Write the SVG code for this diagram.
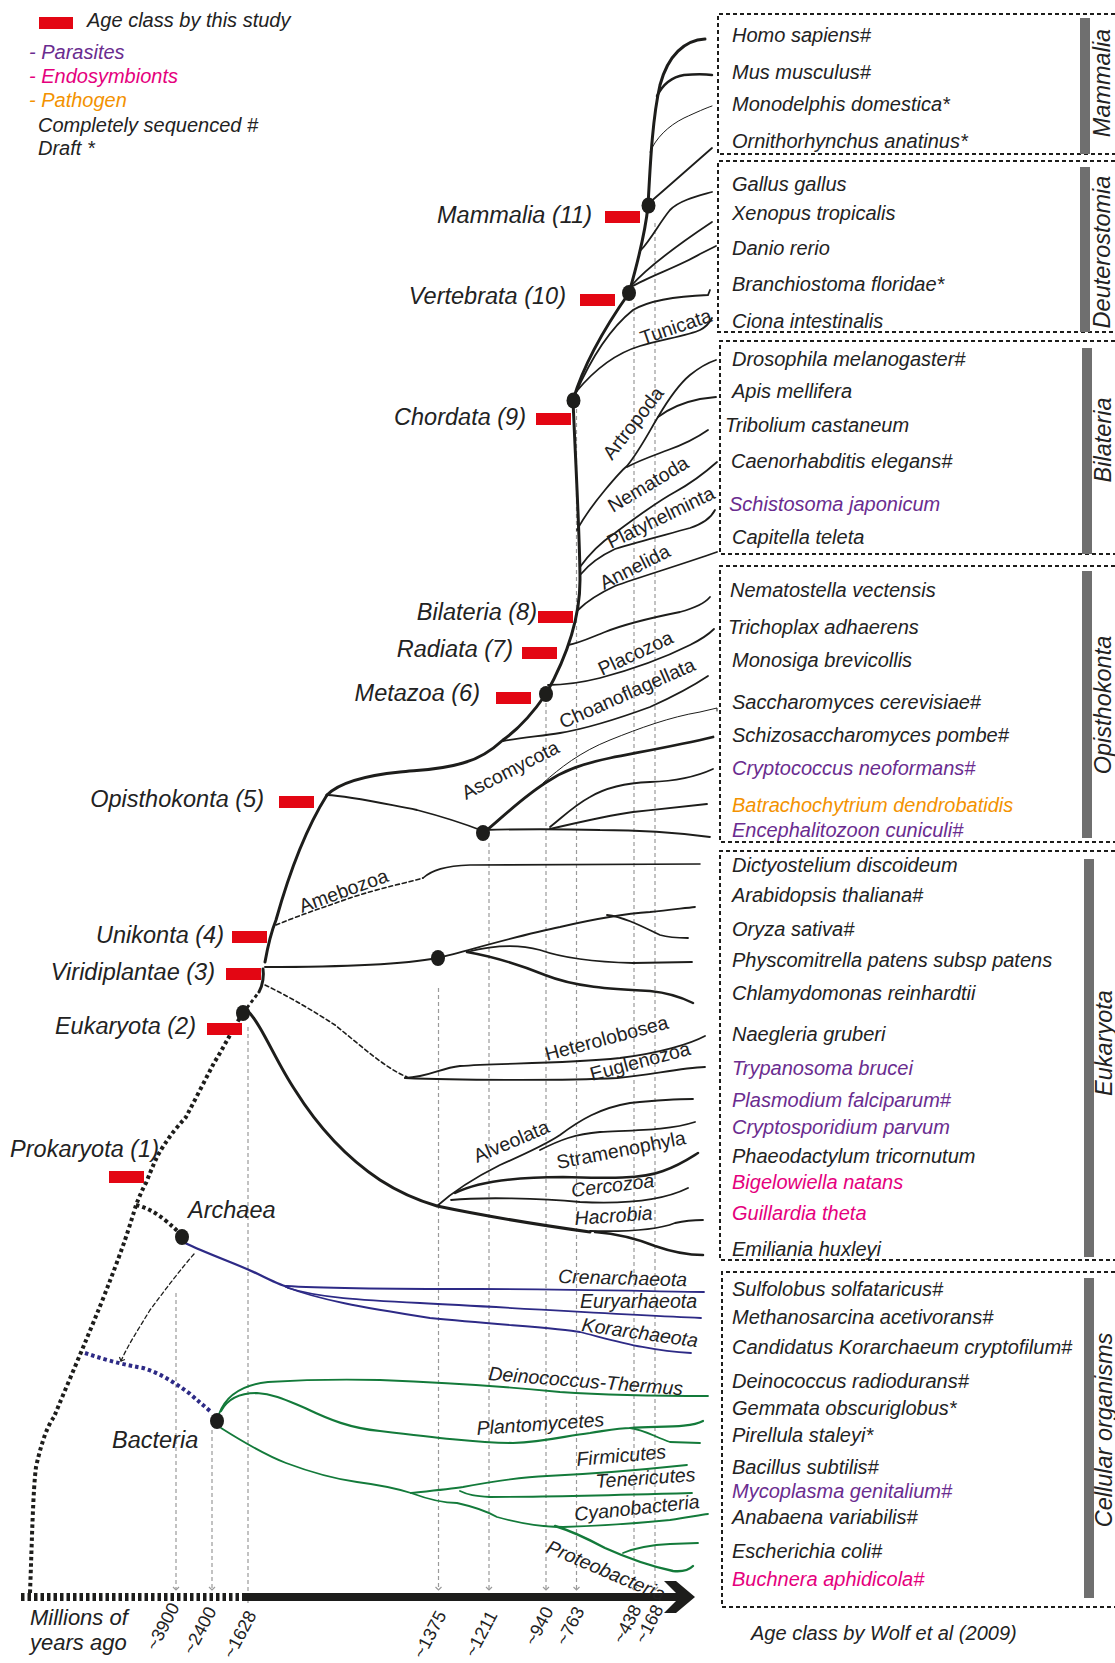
<svg xmlns="http://www.w3.org/2000/svg" width="1115" height="1663" viewBox="0 0 1115 1663">
<defs>
<style>
text{font-family:"Liberation Sans",Arial,sans-serif;fill:#222}
.it{font-style:italic}
.lg{font-size:20px;font-style:italic}
.sp{font-size:20px;font-style:italic}
.nl{font-size:23.5px;font-style:italic}
.bl{font-size:19.5px}
.vl{font-size:23.5px;font-style:italic}
.ax{font-size:18px}
.par{fill:#6a2c8f}
.endo{fill:#e5007d}
.pat{fill:#f39200}
.br{fill:none;stroke:#1d1d1b;stroke-width:1.8;stroke-linecap:round}
.tk{stroke-width:3}
.md{stroke-width:2.5}
.tn{stroke-width:1}
.arch{stroke:#2d2a86}
.bact{stroke:#137a3a}
.dash{stroke-dasharray:4 3;stroke-width:1.6}
.dots{fill:none;stroke:#1d1d1b;stroke-width:4;stroke-dasharray:3.5 3}
.guide{fill:none;stroke:#9a9a9a;stroke-width:1.2;stroke-dasharray:4 3}
.box{fill:none;stroke:#1d1d1b;stroke-width:2;stroke-dasharray:4 3}
.bar{fill:#6f6f6f}
.red{fill:#e30613}
.dot{fill:#1d1d1b}
</style>
<marker id="gv" viewBox="-4 -4 8 8" refX="0" refY="0" markerWidth="8" markerHeight="8" orient="auto" markerUnits="userSpaceOnUse">
<path d="M-3,-3 L0,0 L-3,3" fill="none" stroke="#9a9a9a" stroke-width="1.2"/>
</marker>
<marker id="bv" viewBox="-4 -4 8 8" refX="0" refY="0" markerWidth="8" markerHeight="8" orient="auto" markerUnits="userSpaceOnUse">
<path d="M-3,-3 L0,0 L-3,3" fill="none" stroke="#1d1d1b" stroke-width="1.2"/>
</marker>
</defs>
<rect width="1115" height="1663" fill="#fff"/>

<g id="legend">
<rect class="red" x="39" y="17" width="34" height="12"/>
<text class="lg" x="87" y="27">Age class by this study</text>
<text class="lg par" x="29" y="59">- Parasites</text>
<text class="lg endo" x="29" y="83">- Endosymbionts</text>
<text class="lg pat" x="29" y="107">- Pathogen</text>
<text class="lg" x="38" y="132">Completely sequenced #</text>
<text class="lg" x="38" y="155">Draft *</text>
</g>

<g id="guides">
<line class="guide" x1="176" y1="1293" x2="176" y2="1590" marker-end="url(#gv)"/>
<line class="guide" x1="212" y1="1430" x2="212" y2="1590" marker-end="url(#gv)"/>
<line class="guide" x1="248" y1="1027" x2="248" y2="1603"/>
<line class="guide" x1="438.5" y1="988" x2="438.5" y2="1590" marker-end="url(#gv)"/>
<line class="guide" x1="489" y1="843" x2="489" y2="1590" marker-end="url(#gv)"/>
<line class="guide" x1="546" y1="703" x2="546" y2="1590" marker-end="url(#gv)"/>
<line class="guide" x1="576.5" y1="409" x2="576.5" y2="1590" marker-end="url(#gv)"/>
<line class="guide" x1="634" y1="303" x2="634" y2="1590" marker-end="url(#gv)"/>
<line class="guide" x1="655" y1="223" x2="655" y2="1590" marker-end="url(#gv)"/>
</g>

<g id="axis">
<line x1="21" y1="1597" x2="243" y2="1597" stroke="#1d1d1b" stroke-width="8" stroke-dasharray="3.5 3"/>
<line x1="243" y1="1597" x2="682" y2="1597" stroke="#1d1d1b" stroke-width="8"/>
<polygon points="664,1581 676,1581 695,1597 676,1613 664,1613 680,1597" fill="#1d1d1b"/>
<text class="lg" x="30" y="1625" style="font-size:22px">Millions of</text>
<text class="lg" x="30" y="1650" style="font-size:22px">years ago</text>
<text class="ax" text-anchor="end" transform="translate(180,1607) rotate(-62)">~3900</text>
<text class="ax" text-anchor="end" transform="translate(217,1611) rotate(-62)">~2400</text>
<text class="ax" text-anchor="end" transform="translate(257,1615) rotate(-62)">~1628</text>
<text class="ax" text-anchor="end" transform="translate(447,1615) rotate(-62)">~1375</text>
<text class="ax" text-anchor="end" transform="translate(498,1615) rotate(-62)">~1211</text>
<text class="ax" text-anchor="end" transform="translate(554,1611) rotate(-62)">~940</text>
<text class="ax" text-anchor="end" transform="translate(585,1611) rotate(-62)">~763</text>
<text class="ax" text-anchor="end" transform="translate(642,1609) rotate(-62)">~438</text>
<text class="ax" text-anchor="end" transform="translate(664,1609) rotate(-62)">~168</text>
<text class="lg" x="751" y="1640">Age class by Wolf et al (2009)</text>
</g>

<g id="connectors">
<path class="dots" d="M30,1593 C32,1540 33,1490 36,1467 C42,1440 48,1425 54,1417 C65,1390 78,1360 89,1333 C105,1295 118,1260 125,1240 C130,1225 134,1212 136,1205 C140,1195 143,1188 146,1183 C152,1168 156,1158 161,1150 C170,1135 178,1126 186,1117 C195,1100 205,1080 214,1063 C225,1045 235,1025 243,1013"/>
<path class="dots" style="stroke-width:3" d="M243,1013 L259,992"/>
<path class="dots" d="M136,1205 C145,1207 155,1212 165,1220 C172,1226 177,1230 182,1236"/>
<path class="dots" style="stroke:#2d2a86" d="M85,1353 C100,1358 115,1363 143,1368 C160,1373 175,1383 189,1393 C197,1400 203,1405 210,1411"/>
<path class="br dash" style="stroke-width:1.3" d="M194,1254 C180,1270 165,1290 150,1310 C138,1330 128,1345 121,1361" marker-end="url(#bv)"/>

<path class="br tk" d="M259,992 C263,985 264,975 263,969"/>
<path class="br tk" d="M265,962 C268,945 272,930 276,920 C290,870 305,830 327,795"/>
<path class="br tk" d="M327,795 C340,782 370,775 400,772 C420,770 440,770 463,763 C475,760 490,752 503,740 C520,728 535,710 546,694"/>
<path class="br tk" d="M546,694 C565,660 580,620 580,580 C580,540 575,450 573,400"/>
<path class="br tk" d="M573,400 C585,360 610,320 629,293"/>
<path class="br tk" d="M629,293 C637,265 645,235 648,206"/>
<path class="br tk" d="M648,206 C650,170 652,120 660,85 C668,55 685,40 705,39"/>

<path class="br md" d="M657,96 C663,84 672,77 684,75 C695,74 705,74 712,75"/>
<path class="br tn" d="M650,152 C656,138 668,126 684,118 C697,112 706,108 712,106"/>
<path class="br" d="M648,204 C670,185 695,163 712,148"/>
<path class="br" d="M641,250 C652,238 660,222 670,210 C680,200 698,196 712,192"/>
<path class="br" d="M631,286 C645,270 670,250 712,222"/>
<path class="br" d="M631,287 C650,276 680,266 700,254 L716,246"/>
<path class="br" d="M575,395 C588,365 608,330 633,310 C650,300 680,296 708,295 L710,290"/>
<path class="br" d="M576,392 C590,375 610,355 640,346 C660,340 690,335 700,330 C706,327 710,322 712,318"/>

<path class="br" d="M577,530 C585,515 595,502 605,490 C615,478 622,470 627,466 C640,450 650,430 658,417 C668,400 678,385 690,375 C700,367 710,362 716,360"/>
<path class="br" d="M658,417 C670,408 685,402 700,399 L716,397"/>
<path class="br" d="M627,467 C640,460 655,455 668,450 C685,444 698,437 708,430"/>
<path class="br" d="M580,567 C590,553 600,543 615,533 C635,518 655,503 675,492 C695,481 708,470 717,462"/>
<path class="br" d="M581,574 C590,563 600,556 615,549 C640,541 665,535 690,528 C705,523 712,516 715,510"/>
<path class="br" d="M578,610 C588,600 600,593 615,586 C640,577 680,565 717,552"/>
<path class="br" d="M568,645 C580,643 592,637 605,632 C630,622 660,616 680,612 C695,608 705,603 710,597"/>
<path class="br" d="M548,685 C565,685 580,683 600,678 C630,670 660,660 690,645 C700,640 710,633 714,629"/>
<path class="br" d="M503,741 C520,738 540,736 560,733 C590,728 620,718 650,707 C670,698 690,688 708,676"/>

<path class="br" d="M327,795 C350,796 380,803 417,810 C440,816 460,822 483,831"/>
<path class="br" d="M483,830 C520,829 560,829 600,830 C650,830 680,833 710,837"/>
<path class="br" style="stroke-width:2.8" d="M487,830 C505,815 525,795 550,780 C565,770 585,763 610,758 C640,752 680,745 713,737"/>
<path class="br tn" d="M543,783 C560,768 580,752 610,740 C640,728 670,717 700,712 L717,708 L717,711"/>
<path class="br" d="M550,827 C565,815 575,805 590,797 C605,788 625,783 650,782 C680,781 700,775 713,769"/>
<path class="br" d="M550,829 C580,822 610,815 633,812 C660,809 690,806 707,804"/>

<path class="br dash" d="M276,925 C300,915 330,905 350,898 C380,888 410,882 423,878"/>
<path class="br" style="stroke-width:1.6" d="M423,878 C432,870 445,866 470,865 L700,864"/>

<path class="br" style="stroke-width:2" d="M265,967 C320,967 400,965 438,958"/>
<path class="br" d="M438,958 C470,950 520,935 560,927 C590,920 620,914 650,912 C670,910 685,908 695,907"/>
<path class="br" d="M607,915 C625,917 645,928 660,935 C670,938 680,938 688,938"/>
<path class="br" d="M467,952 C490,946 515,943 540,950 C560,957 590,962 633,963 L692,962"/>
<path class="br md" d="M467,952 C490,956 520,965 545,975 C575,987 610,989 650,991 C670,993 683,998 693,1003"/>

<path class="br dash" d="M265,985 C290,997 315,1012 335,1025 C360,1045 385,1068 407,1077"/>
<path class="br" d="M405,1078 C430,1077 440,1068 460,1066 C500,1063 560,1064 620,1058 C660,1053 690,1044 705,1036"/>
<path class="br" d="M405,1078 C450,1080 560,1081 617,1078 C650,1075 680,1068 705,1067"/>

<path class="br tk" d="M247,1010 C262,1025 275,1060 295,1090 C320,1130 350,1160 380,1180 C400,1193 420,1201 437,1206 C480,1215 540,1225 590,1232"/>
<path class="br" d="M590,1231 C630,1232 660,1229 675,1223 C688,1220 697,1220 703,1220"/>
<path class="br md" d="M595,1232 C620,1234 640,1240 655,1246 C675,1253 690,1255 703,1255"/>
<path class="br" d="M437,1206 C455,1190 480,1175 500,1165 C525,1154 545,1145 560,1135 C580,1120 600,1108 630,1103 C660,1100 680,1099 693,1099"/>
<path class="br" d="M540,1150 C560,1140 575,1134 600,1132 C640,1130 670,1130 695,1122"/>
<path class="br md" d="M455,1193 C480,1180 520,1177 563,1177 C600,1178 640,1180 663,1171 C680,1165 690,1158 698,1153"/>
<path class="br" d="M451,1200 C480,1197 540,1198 580,1202 C620,1204 660,1202 688,1188"/>

<path class="br arch" style="stroke-width:2.4" d="M185,1243 C210,1255 240,1265 260,1275 C270,1280 280,1285 288,1287"/>
<path class="br arch" d="M286,1286 C330,1289 400,1289 480,1289 C560,1289 640,1291 704,1292"/>
<path class="br arch" d="M288,1288 C320,1298 360,1300 420,1303 C520,1308 620,1315 701,1318"/>
<path class="br arch" d="M286,1287 C320,1300 360,1307 430,1318 C500,1325 560,1328 580,1332 C620,1342 650,1351 691,1353"/>

<path class="br bact" d="M219,1414 C225,1398 240,1385 268,1382 C300,1380 340,1379 380,1380 C460,1383 520,1388 560,1392 C620,1396 670,1396 708,1396"/>
<path class="br bact" style="stroke-width:2.2" d="M221,1411 C228,1398 240,1393 257,1393 C275,1394 290,1402 305,1408 C330,1420 350,1428 380,1431 C430,1437 480,1443 513,1443 C545,1442 565,1436 590,1433 C610,1430 620,1428 630,1428 C660,1426 690,1428 703,1421"/>
<path class="br bact" d="M630,1428 C645,1430 655,1437 670,1442 L700,1443"/>
<path class="br bact" d="M221,1428 C240,1440 265,1455 286,1463 C310,1472 335,1479 357,1482 C380,1485 395,1488 411,1493"/>
<path class="br bact" d="M411,1493 C430,1491 450,1489 463,1487 C490,1482 520,1477 547,1476 C590,1474 640,1470 687,1465"/>
<path class="br bact" d="M460,1491 C468,1495 475,1496 490,1497 C540,1497 620,1495 692,1493"/>
<path class="br bact" d="M411,1493 C430,1500 445,1503 457,1503 C475,1507 490,1513 497,1517 C515,1522 540,1527 563,1527"/>
<path class="br bact" d="M563,1527 C600,1526 640,1523 670,1520 C690,1517 700,1515 708,1514"/>
<path class="br bact" style="stroke-width:2.4" d="M555,1526 C575,1532 590,1540 605,1548 C625,1557 645,1565 673,1571 C683,1572 690,1569 693,1566"/>
<path class="br bact" d="M623,1553 C635,1548 650,1545 670,1544 L698,1543"/>
</g>

<g id="branch-labels">
<text class="bl" transform="translate(643,345) rotate(-19)">Tunicata</text>
<text class="bl" transform="translate(612,461) rotate(-52)">Artropoda</text>
<text class="bl" transform="translate(613,513) rotate(-31)">Nematoda</text>
<text class="bl" transform="translate(611,549) rotate(-26)">Platyhelminta</text>
<text class="bl" transform="translate(604,590) rotate(-27)">Annelida</text>
<text class="bl" transform="translate(602,676) rotate(-25)">Placozoa</text>
<text class="bl" transform="translate(563,729) rotate(-24)">Choanoflagellata</text>
<text class="bl" transform="translate(466,800) rotate(-27)">Ascomycota</text>
<text class="bl" transform="translate(302,913) rotate(-20)">Amebozoa</text>
<text class="bl" transform="translate(547,1061) rotate(-15)">Heterolobosea</text>
<text class="bl" transform="translate(592,1081) rotate(-15)">Euglenozoa</text>
<text class="bl" transform="translate(477,1163) rotate(-23)">Alveolata</text>
<text class="bl" transform="translate(558,1169) rotate(-11)">Stramenophyla</text>
<text class="bl it" transform="translate(572,1197) rotate(-7)">Cercozoa</text>
<text class="bl it" transform="translate(575,1225) rotate(-4)">Hacrobia</text>
<text class="bl it" transform="translate(558,1283) rotate(1.5)">Crenarchaeota</text>
<text class="bl it" x="580" y="1308">Euryarhaeota</text>
<text class="bl it" transform="translate(581,1331) rotate(8)">Korarchaeota</text>
<text class="bl it" transform="translate(488,1380) rotate(4.5)">Deinococcus-Thermus</text>
<text class="bl it" transform="translate(477,1435) rotate(-4)">Plantomycetes</text>
<text class="bl it" transform="translate(577,1466) rotate(-5)">Firmicutes</text>
<text class="bl it" transform="translate(596,1488) rotate(-4)">Tenericutes</text>
<text class="bl it" transform="translate(575,1521) rotate(-6)">Cyanobacteria</text>
<text class="bl it" transform="translate(545,1552) rotate(23)">Proteobacteria</text>
</g>

<g id="node-mammalia"><ellipse class="dot" cx="648.5" cy="205.5" rx="7" ry="8"/><rect class="red" x="605" y="211" width="35" height="12"/><text class="nl" text-anchor="end" x="592" y="223">Mammalia (11)</text></g>
<g id="node-vertebrata"><ellipse class="dot" cx="629" cy="293" rx="7" ry="8"/><rect class="red" x="580" y="294" width="35" height="12"/><text class="nl" text-anchor="end" x="566" y="304">Vertebrata (10)</text></g>
<g id="node-chordata"><ellipse class="dot" cx="573.5" cy="400.5" rx="7" ry="8"/><rect class="red" x="536" y="413" width="35" height="12"/><text class="nl" text-anchor="end" x="526" y="425">Chordata (9)</text></g>
<g id="node-bilateria"><rect class="red" x="538" y="611" width="35" height="12"/><text class="nl" text-anchor="end" x="537" y="620">Bilateria (8)</text></g>
<g id="node-radiata"><rect class="red" x="522" y="647" width="35" height="12"/><text class="nl" text-anchor="end" x="513" y="657">Radiata (7)</text></g>
<g id="node-metazoa"><ellipse class="dot" cx="546" cy="694" rx="7" ry="8"/><rect class="red" x="496" y="692" width="35" height="12"/><text class="nl" text-anchor="end" x="480" y="701">Metazoa (6)</text></g>
<g id="node-fungi"><ellipse class="dot" cx="483" cy="833" rx="7" ry="8"/></g>
<g id="node-opisthokonta"><rect class="red" x="279" y="796" width="35" height="12"/><text class="nl" text-anchor="end" x="264" y="807">Opisthokonta (5)</text></g>
<g id="node-unikonta"><rect class="red" x="232" y="931" width="35" height="12"/><text class="nl" text-anchor="end" x="224" y="943">Unikonta (4)</text></g>
<g id="node-plants"><ellipse class="dot" cx="438" cy="958" rx="7" ry="8"/></g>
<g id="node-viridiplantae"><rect class="red" x="226" y="968" width="35" height="12"/><text class="nl" text-anchor="end" x="215" y="980">Viridiplantae (3)</text></g>
<g id="node-eukaryota"><ellipse class="dot" cx="243" cy="1013" rx="7" ry="8"/><rect class="red" x="207" y="1023" width="35" height="12"/><text class="nl" text-anchor="end" x="196" y="1034">Eukaryota (2)</text></g>
<g id="node-prokaryota"><rect class="red" x="109" y="1171" width="35" height="12"/><text class="nl" text-anchor="end" x="159" y="1157">Prokaryota (1)</text></g>
<g id="node-archaea"><ellipse class="dot" cx="182" cy="1237" rx="7" ry="8"/><text class="nl" x="188" y="1218">Archaea</text></g>
<g id="node-bacteria"><ellipse class="dot" cx="217" cy="1421" rx="7" ry="8"/><text class="nl" x="112" y="1448">Bacteria</text></g>

<g id="clade-mammalia">
<path class="box" d="M1115,14 H718 V154 H1115"/>
<rect class="bar" x="1080" y="18" width="10" height="136"/>
<text class="vl" transform="translate(1110,83) rotate(-90)" text-anchor="middle">Mammalia</text>
<text class="sp" x="732" y="42">Homo sapiens#</text>
<text class="sp" x="732" y="79">Mus musculus#</text>
<text class="sp" x="732" y="110.5">Monodelphis domestica*</text>
<text class="sp" x="732" y="148">Ornithorhynchus anatinus*</text>
</g>
<g id="clade-deuterostomia">
<path class="box" d="M1115,161 H718 V332 H1115"/>
<rect class="bar" x="1080" y="167" width="10" height="165"/>
<text class="vl" transform="translate(1110,252) rotate(-90)" text-anchor="middle">Deuterostomia</text>
<text class="sp" x="732" y="191">Gallus gallus</text>
<text class="sp" x="732" y="220">Xenopus tropicalis</text>
<text class="sp" x="732" y="254.5">Danio rerio</text>
<text class="sp" x="732" y="291">Branchiostoma floridae*</text>
<text class="sp" x="732" y="328">Ciona intestinalis</text>
</g>
<g id="clade-bilateria">
<path class="box" d="M1115,341 H720 V554 H1115"/>
<rect class="bar" x="1082" y="348" width="10" height="206"/>
<text class="vl" transform="translate(1111,440) rotate(-90)" text-anchor="middle">Bilateria</text>
<text class="sp" x="732" y="365.5">Drosophila melanogaster#</text>
<text class="sp" x="732" y="397.5">Apis mellifera</text>
<text class="sp" x="725" y="432">Tribolium castaneum</text>
<text class="sp" x="731" y="468">Caenorhabditis elegans#</text>
<text class="sp par" x="729" y="511">Schistosoma japonicum</text>
<text class="sp" x="732" y="543.5">Capitella teleta</text>
</g>
<g id="clade-opisthokonta">
<path class="box" d="M1115,566 H720 V842 H1115"/>
<rect class="bar" x="1082" y="571" width="10" height="267"/>
<text class="vl" transform="translate(1111,705) rotate(-90)" text-anchor="middle">Opisthokonta</text>
<text class="sp" x="730" y="597">Nematostella vectensis</text>
<text class="sp" x="728" y="634">Trichoplax adhaerens</text>
<text class="sp" x="732" y="667">Monosiga brevicollis</text>
<text class="sp" x="732" y="709">Saccharomyces cerevisiae#</text>
<text class="sp" x="732" y="741.5">Schizosaccharomyces pombe#</text>
<text class="sp par" x="732" y="775">Cryptococcus neoformans#</text>
<text class="sp pat" x="732" y="812">Batrachochytrium dendrobatidis</text>
<text class="sp par" x="732" y="837">Encephalitozoon cuniculi#</text>
</g>
<g id="clade-eukaryota">
<path class="box" d="M1115,851 H720 V1260 H1115"/>
<rect class="bar" x="1084" y="859" width="10" height="398"/>
<text class="vl" transform="translate(1112,1043) rotate(-90)" text-anchor="middle">Eukaryota</text>
<text class="sp" x="732" y="872">Dictyostelium discoideum</text>
<text class="sp" x="732" y="902">Arabidopsis thaliana#</text>
<text class="sp" x="732" y="936">Oryza sativa#</text>
<text class="sp" x="732" y="967">Physcomitrella patens subsp patens</text>
<text class="sp" x="732" y="1000">Chlamydomonas reinhardtii</text>
<text class="sp" x="732" y="1041">Naegleria gruberi</text>
<text class="sp par" x="732" y="1075">Trypanosoma brucei</text>
<text class="sp par" x="732" y="1107">Plasmodium falciparum#</text>
<text class="sp par" x="732" y="1133.5">Cryptosporidium parvum</text>
<text class="sp" x="732" y="1162.5">Phaeodactylum tricornutum</text>
<text class="sp endo" x="732" y="1189">Bigelowiella natans</text>
<text class="sp endo" x="732" y="1220">Guillardia theta</text>
<text class="sp" x="732" y="1256">Emiliania huxleyi</text>
</g>
<g id="clade-cellular">
<path class="box" d="M1115,1272 H722 V1607 H1115"/>
<rect class="bar" x="1084" y="1278" width="10" height="320"/>
<text class="vl" transform="translate(1112,1430) rotate(-90)" text-anchor="middle">Cellular organisms</text>
<text class="sp" x="732" y="1296">Sulfolobus solfataricus#</text>
<text class="sp" x="732" y="1323.5">Methanosarcina acetivorans#</text>
<text class="sp" x="732" y="1353.5">Candidatus Korarchaeum cryptofilum#</text>
<text class="sp" x="732" y="1388">Deinococcus radiodurans#</text>
<text class="sp" x="732" y="1415">Gemmata obscuriglobus*</text>
<text class="sp" x="732" y="1442">Pirellula staleyi*</text>
<text class="sp" x="732" y="1473.5">Bacillus subtilis#</text>
<text class="sp par" x="732" y="1498">Mycoplasma genitalium#</text>
<text class="sp" x="732" y="1524">Anabaena variabilis#</text>
<text class="sp" x="732" y="1558">Escherichia coli#</text>
<text class="sp endo" x="732" y="1585.5">Buchnera aphidicola#</text>
</g>
</svg>
